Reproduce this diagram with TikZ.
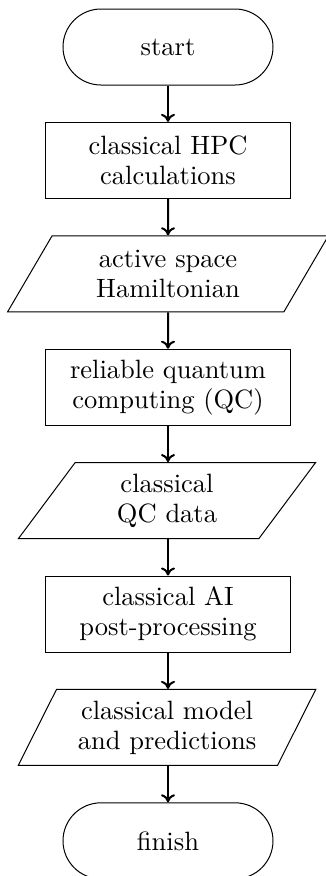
\documentclass[tikz,border=0pt]{standalone}
\usetikzlibrary{shapes.geometric, arrows.meta}
\begin{document}
\begin{tikzpicture}[x=0.4pt, y=-0.4pt,
  base/.style={draw, line width=0.4pt, align=center, minimum height=30.4pt, inner sep=0pt,
    font=\fontsize{10.6}{12}\selectfont},
  terminal/.style={base, rectangle, rounded corners=15.2pt, minimum width=84pt},
  process/.style={base, rectangle, minimum width=98pt},
  io/.style={base, trapezium, trapezium left angle=60, trapezium right angle=120,
    trapezium stretches=true},
  flow/.style={-{To[length=3.2pt, width=5.6pt]}, line width=0.8pt}]
\useasboundingbox (0,0) rectangle (326,876);

% flowchart steps, top to bottom
\node[terminal] (start) at (168,47) {start};
\node[process] (hpc) at (168,160.4) {classical HPC\\calculations};
\node[io, minimum width=129.2pt] (ham) at (168,273.8) {active space\\Hamiltonian};
\node[process] (qc) at (168,387.2) {reliable quantum\\computing (QC)};
\node[io, minimum width=119.2pt] (qcdata) at (167,500.6) {classical\\QC data};
\node[process] (ai) at (168,614) {classical AI\\post-processing};
\node[io, minimum width=119.2pt] (model) at (167,727.4) {classical model\\and predictions};
\node[terminal] (finish) at (168,840.8) {finish};

% connectors, kept vertical
\draw[flow] (start) -- (hpc);
\draw[flow] (hpc) -- (ham);
\draw[flow] (ham) -- (qc);
\draw[flow] (qc) -- (qc.south |- qcdata.north);
\draw[flow] (qcdata.south -| ai.north) -- (ai);
\draw[flow] (ai) -- (ai.south |- model.north);
\draw[flow] (model.south -| finish.north) -- (finish);
\end{tikzpicture}
\end{document}
